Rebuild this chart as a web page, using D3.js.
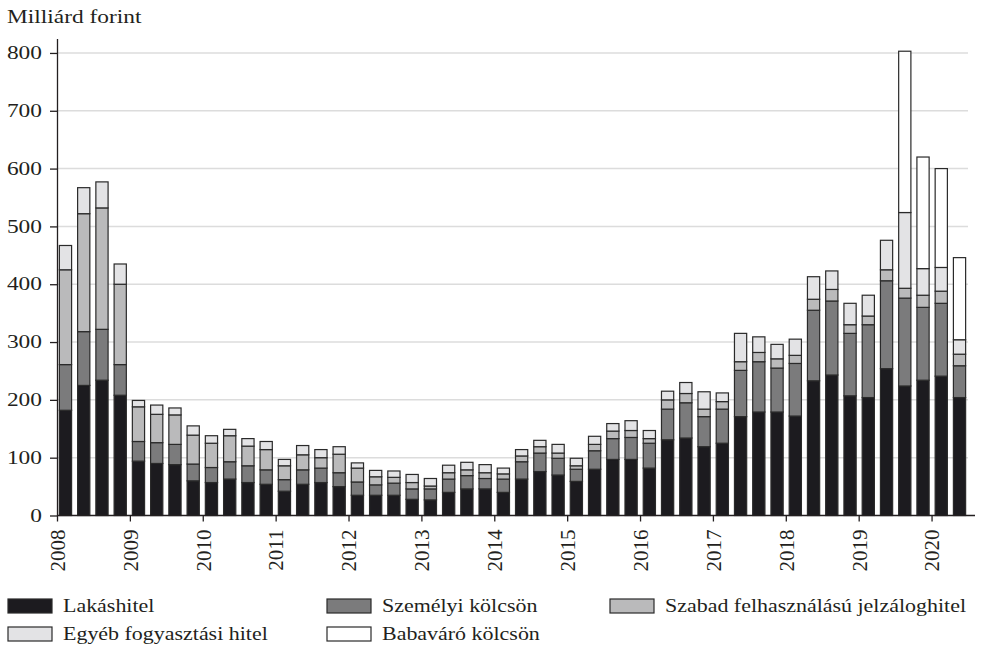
<!DOCTYPE html>
<html>
<head>
<meta charset="utf-8">
<script src="https://cdn.jsdelivr.net/npm/d3@7"></script>
<style>
  body { margin: 0; background: #fff; overflow: hidden; }
  svg { display: block; }
  text { font-family: "Liberation Serif", "Times New Roman", serif; fill: #231f20; }
</style>
</head>
<body>
<div id="chart"></div>
<script>
// quarters, 2008 Q1 - 2020 Q2
var quarters = [
  "2008Q1","2008Q2","2008Q3","2008Q4","2009Q1","2009Q2","2009Q3","2009Q4",
  "2010Q1","2010Q2","2010Q3","2010Q4","2011Q1","2011Q2","2011Q3","2011Q4",
  "2012Q1","2012Q2","2012Q3","2012Q4","2013Q1","2013Q2","2013Q3","2013Q4",
  "2014Q1","2014Q2","2014Q3","2014Q4","2015Q1","2015Q2","2015Q3","2015Q4",
  "2016Q1","2016Q2","2016Q3","2016Q4","2017Q1","2017Q2","2017Q3","2017Q4",
  "2018Q1","2018Q2","2018Q3","2018Q4","2019Q1","2019Q2","2019Q3","2019Q4",
  "2020Q1","2020Q2"
];
var years = [2008,2009,2010,2011,2012,2013,2014,2015,2016,2017,2018,2019,2020];
var yTicks = [0,100,200,300,400,500,600,700,800];

// billion HUF per quarter
var lakashitel = [182,225,234,208, 94,90,88,60, 57,63,57,54, 42,54,57,50, 35,35,35,28,
  27,40,46,46, 40,63,76,70, 59,80,97,97, 82,131,134,119, 125,171,179,179,
  172,233,243,207, 204,254,224,234, 241,204];
var szemelyi = [79,93,88,53, 34,36,35,29, 26,30,29,25, 20,25,25,24, 23,18,21,18,
  19,23,23,18, 23,30,32,29, 21,32,36,38, 43,53,61,52, 59,80,87,76,
  91,122,128,108, 126,152,152,126, 126,55];
var szabad = [164,204,210,139, 60,49,51,50, 42,45,34,35, 24,26,18,32, 24,14,10,11,
  5,11,10,10, 9,10,11,9, 6,11,13,12, 8,16,16,13, 13,15,16,16,
  14,19,20,15, 15,19,17,21, 21,20];
var egyeb = [42,45,45,35, 11,16,12,16, 13,11,13,14, 11,16,14,13, 9,11,11,14,
  13,13,13,14, 10,11,11,15, 13,14,13,17, 14,15,19,30, 15,49,27,25,
  28,39,32,37, 36,51,131,46, 41,25];
var babavaro = [0,0,0,0, 0,0,0,0, 0,0,0,0, 0,0,0,0, 0,0,0,0,
  0,0,0,0, 0,0,0,0, 0,0,0,0, 0,0,0,0, 0,0,0,0,
  0,0,0,0, 0,0,279,193, 171,142];

var seriesNames = ["Lakáshitel","Személyi kölcsön","Szabad felhasználású jelzáloghitel","Egyéb fogyasztási hitel","Babaváró kölcsön"];
var seriesValues = [lakashitel, szemelyi, szabad, egyeb, babavaro];
var colors = ["#1c1b1f","#7b7b7c","#bababb","#e3e3e5","#ffffff"];

var width = 983, height = 654;
var margin = { top: 38.5, right: 15, bottom: 138.5, left: 57 },
    innerWidth = 968 - margin.left,
    innerHeight = height - margin.top - margin.bottom;

var svg = d3.select("#chart")
  .append("svg")
  .attr("width", width)
  .attr("height", height);

var g = svg.append("g")
  .attr("transform", "translate(" + margin.left + "," + margin.top + ")");

// the reference type is wide: stretch glyphs horizontally around their anchor point
function widen(sel, k) {
  sel.each(function() {
    var t = d3.select(this);
    var tx = +t.attr("x") || 0, ty = +t.attr("y") || 0;
    t.attr("x", 0).attr("y", 0)
      .attr("transform", "translate(" + tx + "," + ty + ") scale(" + k + ",1)");
  });
}

var rows = quarters.map(function(q, i) {
  var r = { q: q };
  seriesNames.forEach(function(s, j) { r[s] = seriesValues[j][i]; });
  return r;
});

var x = d3.scaleBand()
  .domain(quarters)
  .range([0, innerWidth])
  .paddingInner(0.33)
  .paddingOuter(0.13);

var xYear = d3.scaleLinear()
  .domain([2008, 2020.5])
  .range([0, innerWidth]);

var y = d3.scaleLinear()
  .domain([0, 825])
  .range([innerHeight, 0]);

// gridlines
g.append("g")
  .selectAll("line")
  .data(yTicks.slice(1))
  .enter()
  .append("line")
  .attr("x1", 0)
  .attr("x2", innerWidth)
  .attr("y1", function(d) { return y(d); })
  .attr("y2", function(d) { return y(d); })
  .attr("stroke", "#dcdcdc")
  .attr("stroke-width", 1.5);

// stacked bars
var stacked = d3.stack().keys(seriesNames)(rows);

g.selectAll(".layer")
  .data(stacked)
  .enter()
  .append("g")
  .attr("class", "layer")
  .attr("fill", function(d, i) { return colors[i]; })
  .selectAll("rect")
  .data(function(d) { return d.filter(function(p) { return p[1] - p[0] > 0; }); })
  .enter()
  .append("rect")
  .attr("x", function(d) { return x(d.data.q); })
  .attr("width", x.bandwidth())
  .attr("y", function(d) { return y(d[1]); })
  .attr("height", function(d) { return y(d[0]) - y(d[1]); })
  .attr("stroke", "#2a2a2a")
  .attr("stroke-width", 1.2);

// y axis
var yAxis = g.append("g")
  .call(d3.axisLeft(y).tickValues(yTicks).tickSize(7).tickSizeOuter(0).tickPadding(8));
yAxis.select(".domain").attr("stroke", "#231f20").attr("stroke-width", 1.3);
yAxis.selectAll(".tick line").attr("stroke", "#231f20").attr("stroke-width", 1.3);
yAxis.selectAll("text")
  .attr("font-size", 18)
  .attr("font-family", "Liberation Serif")
  .call(widen, 1.3);

// x axis (years)
var xAxis = g.append("g")
  .attr("transform", "translate(0," + innerHeight + ")")
  .call(d3.axisBottom(xYear).tickValues(years).tickFormat(d3.format("d")).tickSize(6).tickSizeOuter(0));
xAxis.select(".domain").remove();
xAxis.append("line")
  .attr("x1", 0)
  .attr("x2", innerWidth + 7)
  .attr("stroke", "#231f20")
  .attr("stroke-width", 1.3);
xAxis.selectAll(".tick line").attr("stroke", "#231f20").attr("stroke-width", 1.3);
xAxis.selectAll("text")
  .attr("font-size", 21)
  .attr("font-family", "Liberation Serif")
  .attr("text-anchor", "end")
  .attr("transform", "rotate(-90)")
  .attr("x", -14)
  .attr("y", 0)
  .attr("dy", "0.35em");

// unit label
svg.append("text")
  .attr("x", 7)
  .attr("y", 23)
  .attr("font-size", 18)
  .text("Milliárd forint")
  .call(widen, 1.3);

// legend
var legendPos = [[8, 599], [327, 599], [610, 599], [8, 627], [327, 627]];
var legend = svg.selectAll(".legend")
  .data(seriesNames)
  .enter()
  .append("g")
  .attr("class", "legend")
  .attr("transform", function(d, i) { return "translate(" + legendPos[i][0] + "," + legendPos[i][1] + ")"; });

legend.append("rect")
  .attr("width", 44)
  .attr("height", 14)
  .attr("fill", function(d, i) { return colors[i]; })
  .attr("stroke", "#2a2a2a")
  .attr("stroke-width", 1.2);

legend.append("text")
  .attr("x", 55)
  .attr("y", 13)
  .attr("font-size", 18)
  .text(function(d) { return d; })
  .call(widen, 1.22);
</script>
</body>
</html>
